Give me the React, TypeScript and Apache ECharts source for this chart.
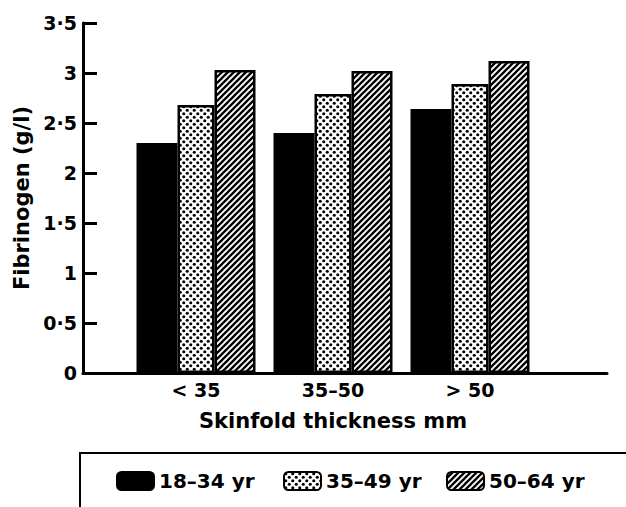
import React, { useEffect, useRef } from "react";
import * as echarts from "echarts";

const categories = ["< 35", "35–50", "> 50"];
const seriesNames = ["18–34 yr", "35–49 yr", "50–64 yr"];
const values18to34 = [2.3, 2.4, 2.64];
const values35to49 = [2.68, 2.79, 2.89];
const values50to64 = [3.03, 3.02, 3.12];
const yMin = 0;
const yMax = 3.5;
const yInterval = 0.5;
const xTitle = "Skinfold thickness mm";
const yTitle = "Fibrinogen (g/l)";

const FONT = "DejaVu Sans";

function dotPattern() {
  const s = 7;
  const c = document.createElement("canvas");
  c.width = s;
  c.height = s;
  const g = c.getContext("2d")!;
  g.fillStyle = "#fff";
  g.fillRect(0, 0, s, s);
  g.fillStyle = "#000";
  const dots = [
    [1.75, 1.75],
    [5.25, 5.25],
  ];
  for (const [x, y] of dots) {
    g.beginPath();
    g.arc(x, y, 1.55, 0, Math.PI * 2);
    g.fill();
  }
  return { image: c.toDataURL(), repeat: "repeat", imageWidth: s, imageHeight: s };
}

function hatchPattern() {
  const s = 6;
  const c = document.createElement("canvas");
  c.width = s;
  c.height = s;
  const g = c.getContext("2d")!;
  g.fillStyle = "#fff";
  g.fillRect(0, 0, s, s);
  g.strokeStyle = "#000";
  g.lineWidth = 2.3;
  g.lineCap = "square";
  const segs = [
    [0, s, s, 0],
    [-1, 1, 1, -1],
    [s - 1, s + 1, s + 1, s - 1],
  ];
  for (const [x1, y1, x2, y2] of segs) {
    g.beginPath();
    g.moveTo(x1, y1);
    g.lineTo(x2, y2);
    g.stroke();
  }
  return { image: c.toDataURL(), repeat: "repeat", imageWidth: s, imageHeight: s };
}

export default function App() {
  const ref = useRef<HTMLDivElement>(null);
  useEffect(() => {
    if (!ref.current) return;
    const chart = echarts.init(ref.current, null, { renderer: "svg" });
    const dots = dotPattern();
    const hatch = hatchPattern();
    const border = { borderColor: "#000", borderWidth: 2.5 };
    const legendText = { fontFamily: FONT, fontWeight: "bold", fontSize: 20, color: "#000" };
    const mkLegend = (name: string, left: number) => ({
      data: [name],
      left,
      top: 471,
      padding: 0,
      itemWidth: 37,
      itemHeight: 18,
      itemGap: 5,
      icon: "roundRect",
      textStyle: legendText,
      selectedMode: false,
    });
    const top = 23;
    const height = 350;
    chart.setOption({
      animation: false,
      backgroundColor: "#fff",
      textStyle: { fontFamily: FONT },
      grid: [
        { left: 83, width: 524, top, height },
        { left: 127.5, width: 411, top, height },
      ],
      xAxis: [
        {
          gridIndex: 0,
          type: "value",
          min: 0,
          max: 1,
          axisLine: { show: true, lineStyle: { color: "#000", width: 3 } },
          axisTick: { show: false },
          axisLabel: { show: false },
          splitLine: { show: false },
        },
        {
          gridIndex: 1,
          type: "category",
          data: categories,
          axisLine: { show: false },
          axisTick: { show: false },
          axisLabel: {
            margin: 7,
            fontFamily: FONT,
            fontWeight: "bold",
            fontSize: 19,
            color: "#000",
          },
          name: xTitle,
          nameLocation: "middle",
          nameGap: 37,
          nameTextStyle: { fontFamily: FONT, fontWeight: "bold", fontSize: 21, color: "#000" },
        },
      ],
      yAxis: [
        {
          gridIndex: 0,
          type: "value",
          min: yMin,
          max: yMax,
          interval: yInterval,
          axisLine: { show: true, lineStyle: { color: "#000", width: 3 } },
          axisTick: { show: true, inside: true, length: 14, lineStyle: { color: "#000", width: 3 } },
          axisLabel: {
            margin: 6,
            fontFamily: FONT,
            fontWeight: "bold",
            fontSize: 19,
            color: "#000",
            formatter: (v: number) => String(v).replace(".", "·"),
          },
          splitLine: { show: false },
          name: yTitle,
          nameLocation: "middle",
          nameRotate: 90,
          nameGap: 51,
          nameTextStyle: { fontFamily: FONT, fontWeight: "bold", fontSize: 21, color: "#000" },
        },
        {
          gridIndex: 1,
          type: "value",
          min: yMin,
          max: yMax,
          interval: yInterval,
          show: false,
          splitLine: { show: false },
        },
      ],
      legend: [mkLegend(seriesNames[0], 116), mkLegend(seriesNames[1], 283), mkLegend(seriesNames[2], 446)],
      graphic: [
        {
          type: "polyline",
          shape: { points: [[626, 453], [80, 453], [80, 507]] },
          style: { stroke: "#000", lineWidth: 2, fill: "none" },
          silent: true,
        },
      ],
      series: [
        {
          name: seriesNames[0],
          type: "bar",
          xAxisIndex: 1,
          yAxisIndex: 1,
          data: values18to34,
          barWidth: 41,
          barGap: "0%",
          itemStyle: { color: "#000", ...border },
        },
        {
          name: seriesNames[1],
          type: "bar",
          xAxisIndex: 1,
          yAxisIndex: 1,
          data: values35to49,
          barWidth: 37,
          barGap: "0%",
          itemStyle: { color: dots, ...border },
        },
        {
          name: seriesNames[2],
          type: "bar",
          xAxisIndex: 1,
          yAxisIndex: 1,
          data: values50to64,
          barWidth: 41,
          barGap: "0%",
          itemStyle: { color: hatch, ...border },
        },
      ],
    });
    return () => chart.dispose();
  }, []);
  return (
    <div
      ref={ref}
      style={{ position: "fixed", left: 0, top: 0, width: 626, height: 507, background: "#fff" }}
    />
  );
}
